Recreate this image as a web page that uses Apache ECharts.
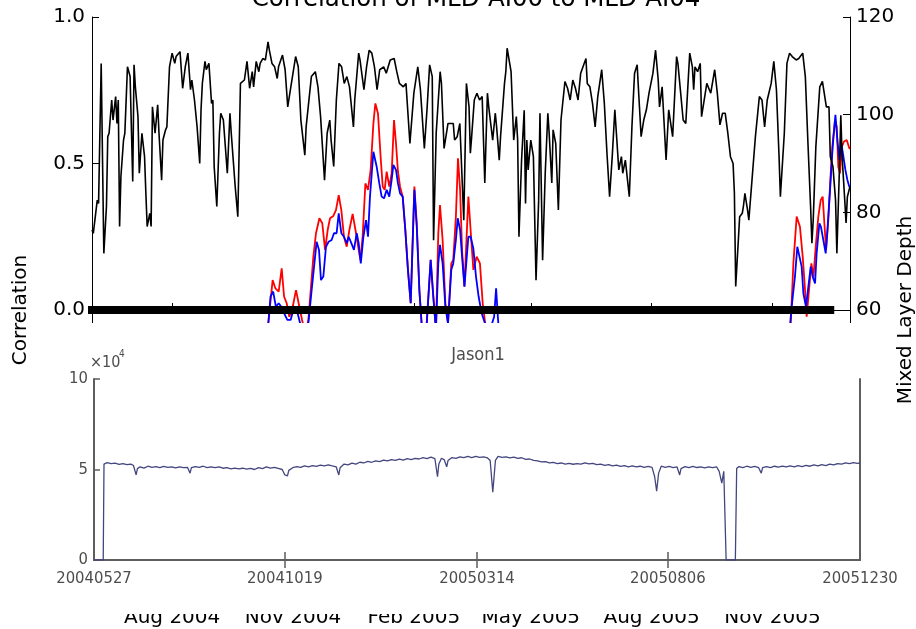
<!DOCTYPE html>
<html>
<head>
<meta charset="utf-8">
<script src="https://cdn.jsdelivr.net/npm/echarts@6/dist/echarts.min.js"></script>
<style>
  html, body { margin: 0; padding: 0; background: #fff; }
  #chart { width: 916px; height: 629px; }
</style>
</head>
<body>
<div id="chart"></div>
<script>
// ---- dates -------------------------------------------------------------
const DAY = 86400000;
const mldStartDate = '2004-06-01';   // day 0 of the correlation / MLD panel
const mldEndDate = '2005-12-30';
const jasonStartDate = '2004-05-27'; // day 0 of the Jason1 panel
const jasonEndDate = '2005-12-30';

const monthTickDates = ['2004-08-01', '2004-11-01', '2005-02-01', '2005-05-01', '2005-08-01', '2005-11-01'];
const jasonTickDates = ['2004-05-27', '2004-10-19', '2005-03-14', '2005-08-06', '2005-12-30'];
const MONTHS = ['Jan', 'Feb', 'Mar', 'Apr', 'May', 'Jun', 'Jul', 'Aug', 'Sep', 'Oct', 'Nov', 'Dec'];

// horizontal zero marker (correlation = 0), start and end dates
const zeroLineSpan = ['2004-05-24', '2005-12-18'];

// ---- mixed layer depth, [day since 2004-06-01, depth] -------------------
const mldPoints = [
  [0,76.4],[1,75.7],[4,82.5],[5,81.8],[7,110.5],[9,71.6],[11,81.2],[12,95.5],[13,96.2],[15,103.0],
  [16,98.9],[18,103.7],[19,98.2],[20,103.0],[21,77.1],[22,87.3],[24,94.8],[25,96.2],[27,109.8],[29,107.8],
  [31,86.3],[32,110.2],[33,105.7],[35,99.6],[36,88.0],[38,96.2],[40,91.4],[41,83.9],[42,77.1],[44,79.8],
  [45,77.1],[46,101.6],[48,96.2],[50,102.0],[51,96.2],[53,86.6],[54,94.8],[56,96.9],[57,97.5],[59,109.8],
  [61,112.6],[63,110.5],[64,111.9],[67,112.9],[69,105.4],[71,109.8],[73,112.6],[75,105.1],[76,107.1],[78,103.0],
  [80,97.5],[82,90.0],[83,101.0],[84,106.4],[86,110.9],[87,109.2],[89,110.5],[91,102.3],[92,103.0],[93,89.4],
  [95,81.2],[97,96.2],[98,100.3],[100,98.9],[103,88.0],[105,100.3],[106,96.2],[109,85.3],[111,79.1],[113,106.4],
  [116,107.1],[118,110.9],[120,105.4],[122,108.8],[123,105.7],[125,110.9],[127,108.8],[128,110.5],[130,111.5],[132,111.2],
  [134,114.9],[135,113.2],[137,110.5],[139,109.8],[141,107.4],[142,109.8],[145,112.2],[147,109.2],[149,101.6],[151,105.1],
  [155,111.9],[157,109.8],[159,98.9],[162,91.7],[163,97.5],[167,107.8],[170,108.8],[172,105.7],[174,99.6],[177,86.6],
  [179,96.2],[181,98.9],[182,94.8],[184,89.4],[186,103.0],[188,110.5],[190,109.8],[192,106.4],[194,107.8],[196,105.7],
  [199,97.5],[200,103.0],[203,112.6],[204,111.2],[207,105.1],[209,109.8],[211,113.2],[213,112.6],[215,109.8],[217,105.1],
  [219,109.2],[222,109.8],[224,108.5],[227,111.2],[230,111.5],[232,108.8],[234,106.4],[237,105.7],[239,106.4],[242,94.1],
  [245,104.4],[248,109.8],[250,105.1],[253,93.1],[255,101.0],[257,110.2],[259,107.8],[260,74.3],[262,96.2],[265,108.8],
  [266,106.4],[268,93.1],[271,98.2],[275,98.2],[276,94.8],[278,95.5],[280,98.2],[283,78.4],[285,106.4],[287,101.6],
  [288,92.1],[289,95.5],[291,103.0],[293,104.4],[295,103.0],[297,103.7],[299,86.0],[301,104.4],[302,101.6],[305,94.8],
  [307,100.3],[308,97.5],[310,90.7],[311,95.5],[314,106.4],[315,108.8],[316,113.6],[319,108.8],[321,94.8],[323,99.6],
  [324,94.8],[325,75.0],[327,90.7],[329,100.9],[330,81.8],[331,94.8],[332,88.7],[334,94.8],[336,91.4],[338,66.1],
  [340,82.5],[341,100.3],[343,70.2],[345,88.0],[347,100.3],[348,96.2],[350,86.0],[351,96.9],[353,94.1],[355,80.5],
  [357,98.9],[358,98.6],[360,106.8],[362,105.4],[364,103.0],[366,107.1],[368,105.4],[370,103.0],[372,108.5],[376,111.5],
  [377,106.4],[379,105.7],[381,102.3],[383,97.5],[385,103.7],[388,109.2],[390,102.3],[392,92.1],[394,83.2],[396,91.4],
  [398,101.0],[401,88.7],[403,91.4],[404,88.0],[406,90.7],[409,83.2],[411,97.5],[413,108.5],[415,110.2],[416,105.1],
  [418,95.5],[420,98.9],[422,101.0],[424,104.4],[427,108.5],[429,113.2],[431,107.1],[432,101.6],[434,105.7],[437,90.7],
  [439,101.0],[442,95.5],[445,111.9],[446,110.5],[450,98.9],[452,98.2],[455,112.6],[457,109.8],[458,105.1],[459,109.8],
  [461,108.8],[463,110.5],[464,99.6],[466,103.0],[468,106.4],[471,104.4],[474,109.2],[476,104.4],[478,97.9],[480,100.3],
  [482,100.3],[484,96.2],[486,91.4],[488,90.0],[489,83.9],[490,64.8],[492,74.3],[493,79.1],[495,79.8],[496,81.5],
  [497,83.9],[499,80.5],[500,78.4],[503,88.7],[505,95.5],[508,103.7],[510,103.0],[512,97.5],[514,103.0],[517,106.4],
  [519,110.9],[521,105.1],[523,91.4],[524,83.2],[527,96.2],[529,110.5],[531,112.6],[533,111.9],[536,111.2],[538,111.5],
  [541,112.6],[543,107.8],[545,94.1],[547,81.2],[548,73.7],[549,78.4],[551,93.4],[554,105.7],[556,106.8],[557,105.1],
  [559,101.6],[561,101.6],[562,91.4],[564,89.4],[566,82.5],[567,71.6],[569,89.4],[570,99.9],[571,91.4],[573,82.5],
  [574,77.8],[575,83.2],[577,85.3]
];

// ---- correlation, [day since 2004-06-01, r] ------------------------------
const corrRedPoints = [
  [128,-0.25],[134.2,-0.046],[137.5,0.102],[139.6,0.074],[142.1,0.063],[144.4,0.142],[146.2,0.046],[148.2,0.023],
  [150.2,-0.023],[152.8,0.011],[155.3,0.068],[157.3,0.023],[159.9,-0.034],[162.4,-0.08],[164.7,-0.034],[166.5,0.068],
  [168.5,0.182],[170.5,0.262],[173.1,0.313],[175.3,0.296],[177.4,0.205],[179.4,0.273],[181.2,0.313],[183.7,0.321],
  [185.7,0.341],[187.8,0.392],[189.8,0.341],[191.8,0.25],[193.9,0.216],[195.9,0.273],[198.4,0.328],[201,0.262],
  [203,0.205],[204.3,0.171],[206,0.25],[208.1,0.432],[210.1,0.41],[212.1,0.478],[214.2,0.637],[215.7,0.705],
  [217.7,0.671],[219.7,0.523],[221.3,0.421],[222.8,0.41],[224.3,0.472],[226.3,0.421],[228.1,0.466],[229.9,0.648],
  [231.4,0.569],[232.9,0.472],[234.5,0.421],[236.5,0.387],[238.5,0.273],[240.5,0.137],[242.6,0.023],[245.4,0.421],
  [247.2,0.296],[249.2,0.068],[250.9,-0.046],[252.7,-0.114],[254.8,-0.046],[257.8,0.171],[259.8,0.046],[261.8,-0.068],
  [263.6,0.262],[264.9,0.358],[266.9,0.239],[269,0.023],[271,-0.046],[273.5,0.159],[275,0.171],[277,0.319],
  [278.6,0.518],[280.2,0.41],[281.7,0.205],[283.5,0.08],[286.5,0.387],[288.2,0.273],[290.3,0.137],[292.8,0.182],
  [295.3,0.159],[297.4,0.023],[299.9,-0.068],[305,-0.2],[330,-0.35],[420,-0.4],[500,-0.3],[528,-0.2],
  [530.1,-0.114],[531.9,-0.046],[533.9,0.159],[536.4,0.319],[538.9,0.284],[541,0.182],[542.8,0.068],[544,-0.023],
  [545.8,0.068],[547.6,0.159],[549.2,0.114],[550.9,0.216],[552.9,0.319],[554.7,0.375],[556.2,0.387],[557.5,0.296],
  [558.8,0.205],[560.5,0.307],[562.3,0.466],[563.8,0.569],[565.6,0.648],[566.9,0.626],[568.1,0.489],[569.4,0.466],
  [570.7,0.557],[572.4,0.575],[574.5,0.58],[576.5,0.552],[577,0.55]
];

const corrBluePoints = [
  [128,-0.25],[134.2,-0.046],[135.9,0.046],[137.9,0.063],[140,0.011],[142.1,0.023],[144.1,0.011],[146.2,-0.011],
  [148.7,-0.034],[151.2,-0.034],[153.2,0],[155.3,0.011],[157.8,-0.034],[160.9,-0.091],[164.7,-0.046],[167.2,0.068],
  [169.3,0.159],[171,0.233],[172.8,0.205],[174.3,0.102],[176.1,0.114],[178.1,0.216],[180.1,0.233],[182.4,0.239],
  [184.2,0.262],[186.2,0.262],[187.8,0.33],[189.8,0.262],[191.8,0.25],[193.9,0.228],[195.4,0.25],[197.4,0.228],
  [199.4,0.205],[201.5,0.262],[203,0.228],[204.6,0.159],[206.6,0.25],[208.6,0.307],[210.1,0.25],[211.6,0.387],
  [214.2,0.54],[216.7,0.489],[218.7,0.432],[220.5,0.387],[222.3,0.381],[224.3,0.41],[226.3,0.387],[228.1,0.444],
  [229.4,0.495],[231.4,0.478],[232.9,0.432],[234.5,0.398],[236.5,0.387],[238.5,0.273],[240.5,0.137],[242.6,0.023],
  [245.4,0.41],[247.2,0.284],[249.2,0.068],[250.9,-0.046],[252.7,-0.114],[254.8,-0.046],[257.8,0.171],[259.8,0.046],
  [261.8,-0.068],[263.6,0.159],[264.9,0.222],[266.9,0.159],[269,0.011],[271,-0.046],[273.5,0.137],[275,0.159],
  [277,0.239],[278.4,0.313],[280.2,0.273],[281.7,0.182],[283.5,0.08],[286.5,0.25],[288.2,0.25],[290.3,0.21],
  [292.3,0.114],[294.3,0.046],[296.6,-0.011],[299.2,-0.046],[303,-0.068],[306.1,-0.023],[307.6,0.074],[309.1,-0.034],
  [310.6,-0.114],[330,-0.35],[420,-0.4],[500,-0.3],[528,-0.2],[530.1,-0.114],[532.6,0.011],[535.1,0.114],
  [536.9,0.216],[538.4,0.222],[540.2,0.148],[541.5,0.057],[543.5,0.011],[545.3,0.08],[547.1,0.148],[548.6,0.114],
  [550.4,0.091],[551.6,0.193],[553.7,0.296],[554.9,0.284],[556.7,0.239],[558.5,0.193],[559.8,0.273],[561.8,0.41],
  [563.8,0.557],[565.9,0.666],[567.4,0.58],[568.9,0.512],[570.4,0.569],[572,0.523],[573.5,0.478],[575,0.444],
  [576.5,0.421],[577,0.42]
];

// ---- Jason1 series, [day since 2004-05-27, value x 10^4] ----------------
const jasonPoints = [
  [0,0],[7,0],[7.6,5.3],[10,5.38],[13,5.32],[16,5.35],[19,5.28],[22,5.33],[25,5.27],[28,5.3],[30,5.22],[32,4.7],
  [33,5.05],[35,5.15],[38,5.08],[41,5.18],[44,5.12],[47,5.16],[50,5.1],[53,5.17],[56,5.12],[59,5.15],[62,5.09],
  [65,5.14],[68,5.1],[71,5.12],[73,4.8],[74,5.1],[77,5.16],[80,5.12],[83,5.18],[86,5.1],[89,5.15],[92,5.1],
  [95,5.14],[98,5.07],[101,5.1],[104,5.04],[107,5.08],[110,5.04],[113,5.07],[116,5.02],[119,5.06],[122,5.0],
  [125,5.1],[128,5.05],[131,5.14],[134,5.08],[137,5.12],[140,5.06],[143,5.0],[145,4.7],[147,4.65],[148,4.95],
  [151,5.1],[154,5.16],[157,5.12],[160,5.2],[163,5.15],[166,5.22],[169,5.17],[172,5.24],[175,5.2],[178,5.26],
  [181,5.2],[184,5.15],[186,4.7],[187,5.1],[190,5.3],[193,5.26],[196,5.35],[199,5.3],[202,5.4],[205,5.36],
  [208,5.45],[211,5.4],[214,5.48],[217,5.44],[220,5.52],[223,5.48],[226,5.55],[229,5.5],[232,5.57],[235,5.52],
  [238,5.6],[241,5.55],[244,5.62],[247,5.58],[250,5.65],[253,5.6],[256,5.68],[259,5.6],[261,4.6],[262,5.3],
  [264,5.62],[266,5.55],[268,5.15],[269,5.5],[272,5.66],[275,5.62],[278,5.7],[281,5.65],[284,5.72],[287,5.66],
  [290,5.73],[293,5.67],[296,5.7],[299,5.64],[301,5.5],[303,3.75],[305,5.5],[307,5.72],[310,5.67],[313,5.7],
  [316,5.64],[319,5.68],[322,5.62],[325,5.65],[328,5.56],[331,5.58],[334,5.5],[337,5.48],[340,5.42],[343,5.44],
  [346,5.37],[349,5.39],[352,5.33],[355,5.36],[358,5.3],[361,5.34],[364,5.29],[367,5.33],[370,5.3],[373,5.36],
  [376,5.31],[379,5.34],[382,5.27],[385,5.3],[388,5.23],[391,5.27],[394,5.2],[397,5.24],[400,5.17],[403,5.22],
  [406,5.15],[409,5.2],[412,5.14],[415,5.18],[418,5.12],[421,5.17],[424,5.12],[426,4.6],[427.5,3.8],[429,4.8],
  [431,5.18],[434,5.12],[437,5.17],[440,5.1],[443,5.14],[445,4.7],[446,5.05],[449,5.16],[452,5.1],[455,5.17],
  [458,5.11],[461,5.15],[464,5.09],[467,5.14],[470,5.1],[473,5.15],[475,4.9],[477,4.25],[478.5,4.9],[479.5,5.0],
  [480.3,0],[487.3,0],[488.3,5.05],[490,5.16],[493,5.1],[496,5.18],[499,5.12],[502,5.17],[505,5.1],[507,4.8],
  [508,5.1],[511,5.16],[514,5.11],[517,5.18],[520,5.13],[523,5.19],[526,5.14],[529,5.2],[532,5.15],[535,5.21],
  [538,5.16],[541,5.23],[544,5.18],[547,5.25],[550,5.2],[553,5.27],[556,5.22],[559,5.3],[562,5.25],[565,5.33],
  [568,5.3],[571,5.36],[574,5.32],[577,5.38],[580,5.34],[582,5.36]
];

// ---- helpers -----------------------------------------------------------
const ts = (iso) => Date.parse(iso + 'T00:00:00Z');
const mldT0 = ts(mldStartDate);
const jasonT0 = ts(jasonStartDate);
const toTime = (t0, pts) => pts.map(([d, v]) => [t0 + d * DAY, v]);
const monthLabel = (v) => { const d = new Date(v); return MONTHS[d.getUTCMonth()] + ' ' + d.getUTCFullYear(); };
const ymdLabel = (v) => {
  const d = new Date(v);
  const p = (n) => String(n).padStart(2, '0');
  return d.getUTCFullYear() + p(d.getUTCMonth() + 1) + p(d.getUTCDate());
};

const MAIN_FONT = 'DejaVu Sans';
const NARROW_FONT = '"DejaVu Sans Condensed", "Liberation Sans Narrow", "Liberation Sans", sans-serif';
const GREY_TEXT = '#4d4d4d';
const FRAME = '#5e5e5e';

const monthTicks = monthTickDates.map(ts);
const jasonTicks = jasonTickDates.map(ts);

const chart = echarts.init(document.getElementById('chart'), null, { renderer: 'canvas' });

// the date axes are linear millisecond axes with explicit tick positions
const dateAxis = (extra) => Object.assign({ type: 'value', scale: true, splitLine: { show: false } }, extra);

chart.setOption({
  animation: false,
  backgroundColor: '#fff',
  title: [
    {
      text: 'Correlation of MLD-AI00 to MLD-AI04',
      left: 471, top: -18, textAlign: 'center',
      textStyle: { fontFamily: MAIN_FONT, fontSize: 24.5, fontWeight: 'normal', color: '#000' }
    },
    {
      text: 'Jason1',
      left: 473, top: 341, textAlign: 'center', z: 30,
      textStyle: { fontFamily: NARROW_FONT, fontSize: 18, fontWeight: 'normal', color: GREY_TEXT }
    }
  ],
  grid: [
    { left: 92, right: 66, top: 17, bottom: 26, containLabel: false, outerBoundsMode: 'none' },
    { left: 94, right: 56, top: 379, bottom: 69, containLabel: false, outerBoundsMode: 'none', show: true,
      backgroundColor: '#fff', borderWidth: 0, z: 20 }
  ],
  graphic: {
    elements: [
      // the embedded Jason1 panel sits on an opaque white card
      { type: 'rect', shape: { x: 45, y: 323, width: 840, height: 291 }, style: { fill: '#fff' }, z: 10 },
      { type: 'text', x: 90, y: 355, z: 30,
        style: { text: '\u00d710', fontFamily: NARROW_FONT, fontSize: 16, fill: GREY_TEXT } },
      { type: 'text', x: 119, y: 349, z: 30,
        style: { text: '4', fontFamily: NARROW_FONT, fontSize: 10, fill: GREY_TEXT } }
    ]
  },
  xAxis: [
    dateAxis({
      gridIndex: 0, position: 'bottom',
      min: mldT0, max: ts(mldEndDate),
      axisLine: { show: true, lineStyle: { color: '#000', width: 1 } },
      axisTick: { show: true, inside: true, length: 7, customValues: monthTicks, lineStyle: { color: '#000' } },
      axisLabel: { customValues: monthTicks, formatter: monthLabel, fontFamily: MAIN_FONT, fontSize: 20, color: '#000', margin: 5 }
    }),
    dateAxis({
      gridIndex: 0, position: 'top',
      min: mldT0, max: ts(mldEndDate),
      axisLine: { show: true, lineStyle: { color: '#000', width: 1 } },
      axisTick: { show: true, inside: true, length: 7, customValues: monthTicks, lineStyle: { color: '#000' } },
      axisLabel: { show: false }
    }),
    dateAxis({
      gridIndex: 1, position: 'bottom', z: 25,
      min: jasonT0, max: ts(jasonEndDate),
      axisLine: { show: true, lineStyle: { color: FRAME, width: 2 } },
      axisTick: { show: true, inside: true, length: 8, customValues: jasonTicks.slice(1, 4), lineStyle: { color: FRAME, width: 1.5 } },
      axisLabel: { customValues: jasonTicks, formatter: ymdLabel, fontFamily: NARROW_FONT, fontSize: 16.5, color: GREY_TEXT, margin: 10 }
    }),
    dateAxis({
      gridIndex: 1, position: 'top', z: 25,
      min: jasonT0, max: ts(jasonEndDate),
      axisLine: { show: true, lineStyle: { color: FRAME, width: 2 } },
      axisTick: { show: true, inside: true, length: 8, customValues: jasonTicks.slice(1, 4), lineStyle: { color: FRAME, width: 1.5 } },
      axisLabel: { show: false }
    })
  ],
  yAxis: [
    {
      gridIndex: 0, type: 'value', position: 'left',
      min: -1, max: 1, interval: 0.5,
      name: 'Correlation', nameLocation: 'middle', nameGap: 61, nameRotate: 90, nameMoveOverlap: false,
      nameTextStyle: { fontFamily: MAIN_FONT, fontSize: 20, color: '#000' },
      axisLine: { show: true, lineStyle: { color: '#000', width: 1 } },
      axisTick: { show: true, inside: true, length: 7, lineStyle: { color: '#000' } },
      axisLabel: { formatter: (v) => v.toFixed(1), fontFamily: MAIN_FONT, fontSize: 20, color: '#000', margin: 7 },
      splitLine: { show: false }
    },
    {
      gridIndex: 0, type: 'value', position: 'right',
      min: 0, max: 120, interval: 20,
      name: 'Mixed Layer Depth', nameLocation: 'middle', nameGap: 46, nameRotate: 90, nameMoveOverlap: false,
      nameTextStyle: { fontFamily: MAIN_FONT, fontSize: 20, color: '#000' },
      axisLine: { show: true, lineStyle: { color: '#000', width: 1 } },
      axisTick: { show: true, inside: true, length: 7, lineStyle: { color: '#000' } },
      axisLabel: { fontFamily: MAIN_FONT, fontSize: 20, color: '#000', margin: 6 },
      splitLine: { show: false }
    },
    {
      gridIndex: 1, type: 'value', position: 'left', z: 25,
      min: 0, max: 10, interval: 5,
      axisLine: { show: true, lineStyle: { color: FRAME, width: 2 } },
      axisTick: { show: true, inside: true, length: 6, lineStyle: { color: FRAME, width: 1.5 } },
      axisLabel: { fontFamily: NARROW_FONT, fontSize: 16.5, color: GREY_TEXT, margin: 6 },
      splitLine: { show: false }
    },
    {
      gridIndex: 1, type: 'value', position: 'right', z: 25,
      min: 0, max: 10, interval: 5,
      axisLine: { show: true, lineStyle: { color: FRAME, width: 2 } },
      axisTick: { show: false },
      axisLabel: { show: false },
      splitLine: { show: false }
    }
  ],
  series: [
    {
      name: 'corr-red', type: 'line', xAxisIndex: 0, yAxisIndex: 0, z: 3,
      data: toTime(mldT0, corrRedPoints), showSymbol: false, symbol: 'none',
      lineStyle: { color: '#ff0000', width: 1.8 }
    },
    {
      name: 'corr-blue', type: 'line', xAxisIndex: 0, yAxisIndex: 0, z: 4,
      data: toTime(mldT0, corrBluePoints), showSymbol: false, symbol: 'none',
      lineStyle: { color: '#0000ff', width: 1.8 }
    },
    {
      // heavy zero reference line, drawn on its own layer so it sits over the tick label
      name: 'zero', type: 'line', xAxisIndex: 0, yAxisIndex: 0, zlevel: 1, z: 5, clip: false,
      data: zeroLineSpan.map((d) => [ts(d), 0]), showSymbol: false, symbol: 'none',
      lineStyle: { color: '#000', width: 8, cap: 'butt' }
    },
    {
      name: 'mld', type: 'line', xAxisIndex: 0, yAxisIndex: 1, z: 6,
      data: toTime(mldT0, mldPoints), showSymbol: false, symbol: 'none',
      lineStyle: { color: '#000', width: 1.6 }
    },
    {
      name: 'jason1', type: 'line', xAxisIndex: 2, yAxisIndex: 2, z: 26,
      data: toTime(jasonT0, jasonPoints), showSymbol: false, symbol: 'none',
      lineStyle: { color: '#43467f', width: 1.3 }
    }
  ]
});
</script>
</body>
</html>
